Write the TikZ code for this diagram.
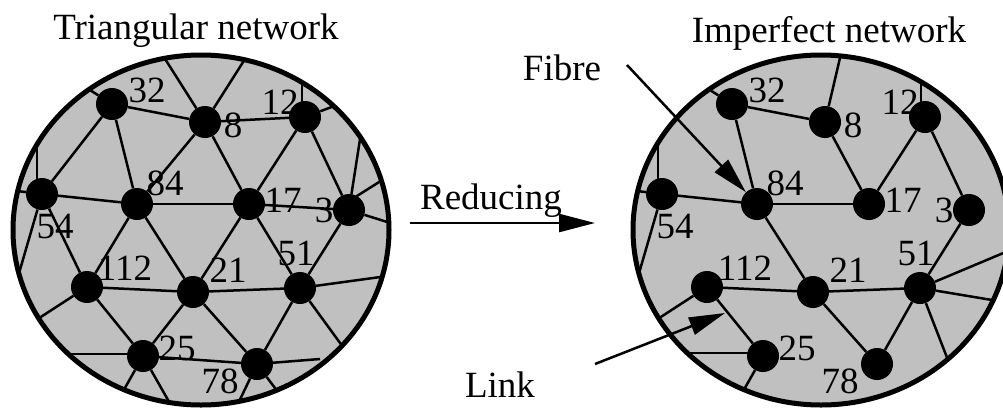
\documentclass[tikz,border=0pt]{standalone}
\usepackage{fontspec}
\setmainfont{Liberation Serif}
\usetikzlibrary{arrows.meta}
\definecolor{netgray}{RGB}{192,192,192}
\begin{document}
\begin{tikzpicture}[x=1pt,y=-1pt,
  nd/.style={circle,fill=black,inner sep=0pt,minimum size=32pt},
  lb/.style={inner sep=0pt,font=\fontsize{37}{40}\selectfont},
  txt/.style={inner sep=0pt,anchor=base,font=\fontsize{37}{40}\selectfont},
  ed/.style={line width=2.5pt},
  rim/.style={line width=5pt},
  arr/.style={line width=2.5pt,-{Triangle[length=36pt,width=18pt]}}]
\useasboundingbox (0,0) rectangle (1003,408);

% ---------------- left network ----------------
\fill[netgray] (201,230) ellipse [x radius=188pt, y radius=175pt];
\node[nd] (a32) at (112,104) {};
\node[nd] (a8) at (205,122) {};
\node[nd] (a12) at (305,117) {};
\node[nd] (a54) at (42,194) {};
\node[nd] (a84) at (137,204) {};
\node[nd] (a17) at (249,204) {};
\node[nd] (a3) at (349,210) {};
\node[nd] (a112) at (87,287) {};
\node[nd] (a21) at (193,292) {};
\node[nd] (a51) at (300,288) {};
\node[nd] (a25) at (143,356) {};
\node[nd] (a78) at (257,364) {};
\coordinate (la1) at (155,43);
\coordinate (la2) at (252,48);
\coordinate (la3) at (82,85);
\coordinate (la4) at (0,189);
\coordinate (la5) at (37,128);
\coordinate (la6) at (15,287);
\coordinate (la7) at (302,70);
\coordinate (la8) at (345,102);
\coordinate (la9) at (363,120);
\coordinate (la10) at (395,172);
\coordinate (la11) at (400,226);
\coordinate (la12) at (30,324);
\coordinate (la13) at (55,354);
\coordinate (la14) at (117,402);
\coordinate (la15) at (176,414);
\coordinate (la16) at (395,275);
\coordinate (la17) at (351,358);
\coordinate (la18) at (320,359);
\coordinate (la19) at (235,410);
\coordinate (la20) at (284,400);
\begin{scope}
\clip (201,230) ellipse [x radius=188pt, y radius=175pt];
\draw[ed] (a32) -- (a8);
\draw[ed] (a32) -- (a54);
\draw[ed] (a32) -- (a84);
\draw[ed] (a8) -- (a84);
\draw[ed] (a8) -- (a12);
\draw[ed] (a8) -- (a17);
\draw[ed] (a54) -- (a84);
\draw[ed] (a54) -- (a112);
\draw[ed] (a84) -- (a17);
\draw[ed] (a84) -- (a112);
\draw[ed] (a84) -- (a21);
\draw[ed] (a12) -- (a17);
\draw[ed] (a12) -- (a3);
\draw[ed] (a17) -- (a3);
\draw[ed] (a17) -- (a21);
\draw[ed] (a17) -- (a51);
\draw[ed] (a3) -- (a51);
\draw[ed] (a112) -- (a21);
\draw[ed] (a112) -- (a25);
\draw[ed] (a21) -- (a25);
\draw[ed] (a21) -- (a51);
\draw[ed] (a21) -- (a78);
\draw[ed] (a25) -- (a78);
\draw[ed] (a51) -- (a78);
\draw[ed] (a8) -- (la1);
\draw[ed] (a8) -- (la2);
\draw[ed] (a32) -- (la3);
\draw[ed] (a54) -- (la4);
\draw[ed] ([xshift=-5pt]a54.center) -- (la5);
\draw[ed] (a54) -- (la6);
\draw[ed] ([xshift=-3pt]a12.center) -- (la7);
\draw[ed] (a12) -- (la8);
\draw[ed] (a3) -- (la9);
\draw[ed] ([yshift=9pt]a3.center) -- (la10);
\draw[ed] (a3) -- (la11);
\draw[ed] (a112) -- (la12);
\draw[ed] ([yshift=2pt]a25.center) -- (la13);
\draw[ed] (a25) -- (la14);
\draw[ed] (a25) -- (la15);
\draw[ed] (a51) -- (la16);
\draw[ed] (a51) -- (la17);
\draw[ed] (a78) -- (la18);
\draw[ed] (a78) -- (la19);
\draw[ed] (a78) -- (la20);
\end{scope}
\draw[rim] (201,230) ellipse [x radius=188pt, y radius=175pt];
\node[lb] (al32) at (147,90) {32};
\node[lb] (al8) at (233,125) {8};
\node[lb] (al12) at (280,102) {12};
\node[lb] (al84) at (165,183) {84};
\node[lb] (al17) at (283,200) {17};
\node[lb] (al3) at (324,210) {3};
\node[lb] (al54) at (55,226) {54};
\node[lb] (al112) at (125,268) {112};
\node[lb] (al21) at (228,270) {21};
\node[lb] (al51) at (296,253) {51};
\node[lb] (al25) at (177,348) {25};
\node[lb] (al78) at (220,381) {78};

% ---------------- right network ----------------
\begin{scope}[shift={(620,0)}]
\fill[netgray] (201,230) ellipse [x radius=188pt, y radius=175pt];
\node[nd] (b32) at (112,104) {};
\node[nd] (b8) at (205,122) {};
\node[nd] (b12) at (305,117) {};
\node[nd] (b54) at (42,194) {};
\node[nd] (b84) at (137,204) {};
\node[nd] (b17) at (249,204) {};
\node[nd] (b3) at (349,210) {};
\node[nd] (b112) at (87,287) {};
\node[nd] (b21) at (193,292) {};
\node[nd] (b51) at (300,288) {};
\node[nd] (b25) at (143,356) {};
\node[nd] (b78) at (257,364) {};
\coordinate (rb1) at (223,45);
\coordinate (rb2) at (82,85);
\coordinate (rb3) at (0,189);
\coordinate (rb4) at (38,128);
\coordinate (rb5) at (15,287);
\coordinate (rb6) at (301,70);
\coordinate (rb7) at (30,324);
\coordinate (rb8) at (55,353);
\coordinate (rb9) at (117,402);
\coordinate (rb10) at (400,246);
\coordinate (rb11) at (390,303);
\coordinate (rb12) at (333,373);
\begin{scope}
\clip (201,230) ellipse [x radius=188pt, y radius=175pt];
\draw[ed] (b32) -- (b8);
\draw[ed] (b32) -- (b84);
\draw[ed] (b54) -- (b84);
\draw[ed] (b84) -- (b17);
\draw[ed] (b84) -- (b21);
\draw[ed] (b8) -- (b17);
\draw[ed] (b12) -- (b17);
\draw[ed] (b12) -- (b3);
\draw[ed] (b3) -- (b51);
\draw[ed] (b112) -- (b21);
\draw[ed] (b112) -- (b25);
\draw[ed] (b21) -- (b51);
\draw[ed] (b21) -- (b78);
\draw[ed] (b51) -- (b78);
\draw[ed] (b8) -- (rb1);
\draw[ed] (b32) -- (rb2);
\draw[ed] (b54) -- (rb3);
\draw[ed] ([xshift=-4pt]b54.center) -- (rb4);
\draw[ed] (b54) -- (rb5);
\draw[ed] ([xshift=-4pt]b12.center) -- (rb6);
\draw[ed] (b112) -- (rb7);
\draw[ed] ([yshift=3pt]b25.center) -- (rb8);
\draw[ed] (b25) -- (rb9);
\draw[ed] (b51) -- (rb10);
\draw[ed] (b51) -- (rb11);
\draw[ed] (b51) -- (rb12);
\end{scope}
\draw[rim] (201,230) ellipse [x radius=188pt, y radius=175pt];
\node[lb] (bl32) at (147,90) {32};
\node[lb] (bl8) at (233,125) {8};
\node[lb] (bl12) at (280,102) {12};
\node[lb] (bl84) at (165,183) {84};
\node[lb] (bl17) at (283,200) {17};
\node[lb] (bl3) at (324,210) {3};
\node[lb] (bl54) at (55,226) {54};
\node[lb] (bl112) at (125,268) {112};
\node[lb] (bl21) at (228,270) {21};
\node[lb] (bl51) at (296,253) {51};
\node[lb] (bl25) at (177,348) {25};
\node[lb] (bl78) at (220,381) {78};
\end{scope}

% ---------------- texts and arrows ----------------
\node[txt] (t1) at (196,39) {Triangular network};
\node[txt] (t2) at (829,42) {Imperfect network};
\node[txt] (t3) at (562,80) {Fibre};
\node[txt] (t4) at (491,209) {Reducing};
\node[txt] (t5) at (500,397) {Link};
\coordinate (fS) at (627,65);
\draw[arr] (fS) -- (b84);
\coordinate (rS) at (410,223);
\coordinate (rE) at (595,223);
\draw[arr] (rS) -- (rE);
\coordinate (lS) at (595,364);
\coordinate (lE) at (725,313);
\draw[arr] (lS) -- (lE);
\end{tikzpicture}
\end{document}
